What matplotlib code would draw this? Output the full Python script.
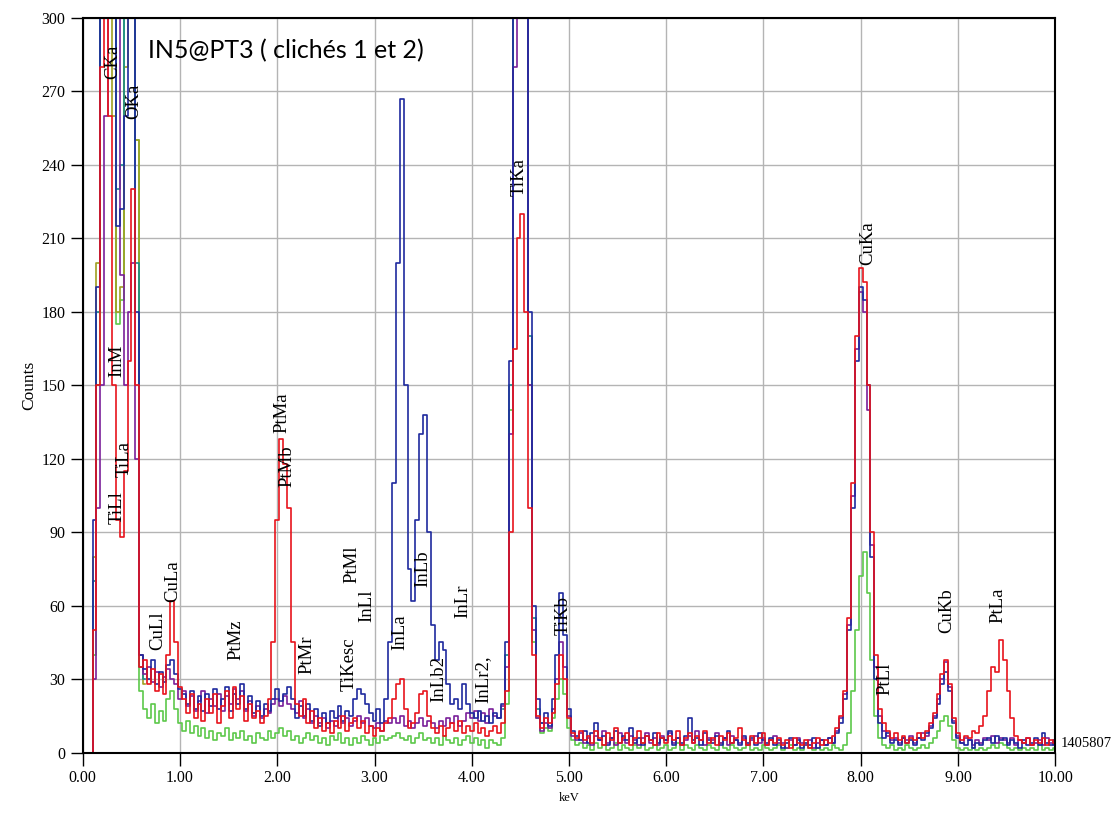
import numpy as np
import matplotlib
matplotlib.use("Agg")
import matplotlib.pyplot as plt

# spectre EDS, canaux de 0.04 keV de 0.00 a 10.00 keV (10 valeurs par ligne = 0.40 keV)
pas_kev = 0.04

bleu = [
    0, 0, 0, 95, 190, 330, 420, 400, 300, 215,        # 0.00
    222, 260, 380, 420, 180, 40, 34, 30, 38, 28,       # 0.40
    33, 29, 36, 38, 32, 26, 24, 20, 25, 18,            # 0.80
    23, 17, 24, 19, 26, 18, 22, 27, 17, 24,            # 1.20
    20, 28, 18, 23, 16, 21, 15, 20, 17, 22,            # 1.60
    26, 21, 24, 27, 22, 14, 19, 15, 20, 13,            # 2.00
    18, 11, 16, 12, 17, 14, 19, 13, 17, 15,            # 2.40
    22, 26, 24, 20, 16, 13, 18, 12, 22, 45,            # 2.80
    110, 200, 267, 150, 75, 62, 95, 130, 138, 90,      # 3.20
    52, 38, 45, 42, 28, 20, 22, 18, 28, 20,            # 3.60
    16, 14, 17, 13, 15, 12, 16, 14, 20, 45,            # 4.00
    160, 300, 420, 420, 340, 180, 60, 22, 12, 16,      # 4.40
    11, 22, 40, 65, 48, 18, 9, 7, 5, 9,                # 4.80
    4, 8, 12, 5, 7, 3, 6, 9, 4, 7,                     # 5.20
    5, 10, 4, 6, 3, 7, 5, 8, 4, 6,                     # 5.60
    5, 9, 3, 6, 4, 7, 14, 5, 6, 3,                     # 6.00
    8, 5, 4, 7, 3, 6, 9, 4, 5, 3,                      # 6.40
    7, 4, 6, 3, 8, 5, 4, 6, 3, 5,                      # 6.80
    2, 4, 6, 3, 5, 2, 4, 3, 6, 2,                      # 7.20
    5, 3, 6, 4, 8, 12, 22, 50, 100, 160,               # 7.60
    190, 185, 150, 80, 30, 12, 6, 8, 4, 5,             # 8.00
    3, 6, 4, 5, 3, 6, 5, 8, 10, 14,                    # 8.40
    20, 28, 33, 25, 12, 6, 4, 3, 5, 2,                 # 8.80
    4, 3, 5, 6, 4, 7, 5, 6, 3, 5,                      # 9.20
    4, 2, 5, 3, 4, 6, 3, 8, 4, 3,                      # 9.60
    5,                                                 # 10.00
]

rouge = [
    0, 0, 0, 50, 150, 280, 300, 260, 150, 95,
    88, 115, 160, 230, 150, 35, 38, 28, 34, 25,
    32, 24, 40, 62, 45, 27, 22, 16, 24, 14,
    20, 13, 22, 16, 24, 12, 19, 25, 14, 27,
    18, 23, 13, 20, 14, 17, 12, 15, 22, 45,
    95, 128, 118, 100, 45, 20, 15, 22, 12, 17,
    10, 14, 9, 12, 8, 13, 10, 15, 9, 12,
    14, 10, 13, 8, 11, 7, 10, 9, 12, 14,
    22, 28, 30, 18, 10, 12, 16, 24, 25, 15,
    10, 8, 11, 7, 10, 12, 9, 13, 8, 11,
    9, 12, 8, 10, 7, 9, 11, 8, 12, 25,
    90, 165, 210, 220, 180, 100, 40, 15, 10, 14,
    12, 16, 28, 40, 30, 14, 8, 6, 9, 5,
    7, 4, 9, 6, 3, 8, 5, 10, 4, 6,
    8, 3, 6, 9, 4, 7, 5, 3, 8, 6,
    4, 7, 5, 9, 3, 6, 8, 4, 7, 5,
    9, 4, 6, 3, 7, 5, 8, 4, 6, 10,
    5, 3, 7, 4, 6, 8, 3, 5, 4, 6,
    3, 5, 2, 6, 4, 3, 5, 2, 4, 6,
    3, 5, 4, 7, 10, 15, 25, 55, 110, 170,
    198, 192, 150, 90, 40, 18, 12, 9, 6, 8,
    5, 7, 4, 6, 5, 8, 6, 9, 12, 16,
    24, 32, 38, 28, 14, 8, 5, 7, 6, 9,
    8, 11, 15, 25, 35, 33, 46, 38, 25, 14,
    7, 5, 4, 6, 3, 5, 4, 6, 3, 5,
    4,
]

vert = [
    0, 0, 0, 40, 150, 320, 420, 420, 320, 175,
    185, 300, 420, 420, 250, 25, 18, 14, 20, 12,
    17, 13, 22, 25, 18, 12, 9, 13, 8, 11,
    7, 10, 6, 9, 5, 8, 7, 10, 5, 8,
    6, 9, 5, 7, 4, 8, 6, 5, 9, 6,
    8, 10, 7, 9, 5, 7, 4, 6, 8, 5,
    7, 4, 6, 3, 7, 5, 8, 4, 6, 3,
    6, 4, 7, 5, 3, 6, 4, 7, 5, 6,
    7, 8, 6, 5, 7, 4, 6, 8, 5, 6,
    4, 6, 3, 7, 5, 4, 6, 3, 5, 7,
    4, 6, 3, 5, 2, 5, 4, 3, 6, 20,
    140, 300, 420, 420, 320, 150, 45, 14, 8, 10,
    9, 14, 22, 30, 24, 10, 5, 3, 4, 2,
    3, 1, 4, 2, 3, 1, 2, 4, 1, 3,
    2, 1, 3, 2, 4, 1, 2, 3, 1, 2,
    3, 1, 2, 4, 1, 3, 2, 1, 3, 2,
    1, 3, 2, 1, 4, 2, 1, 3, 2, 1,
    2, 3, 1, 2, 1, 3, 2, 1, 2, 3,
    1, 2, 3, 1, 2, 1, 3, 2, 1, 2,
    1, 2, 1, 3, 2, 1, 3, 8, 25, 50,
    72, 82, 65, 38, 15, 6, 3, 2, 3, 1,
    2, 1, 3, 2, 1, 2, 3, 2, 4, 6,
    9, 13, 15, 11, 5, 2, 1, 2, 1, 2,
    1, 2, 1, 2, 3, 2, 4, 3, 2, 1,
    2, 1, 2, 1, 2, 1, 3, 1, 2, 1,
    2,
]

violet = [
    0, 0, 0, 30, 100, 150, 260, 380, 420, 330,
    195, 150, 180, 200, 120, 40, 32, 35, 29, 33,
    27, 31, 34, 30, 28, 22, 25, 19, 23, 17,
    21, 25, 16, 22, 19, 24, 17, 23, 20, 26,
    22, 25, 17, 21, 15, 19, 14, 18, 16, 20,
    22, 19, 23, 20, 18, 16, 21, 14, 18, 12,
    15, 12, 14, 10, 13, 11, 15, 12, 14, 11,
    13, 15, 12, 14, 11, 10, 12, 9, 13, 12,
    14, 12, 15, 11, 13, 10, 12, 14, 11, 13,
    12, 10, 13, 11, 14, 12, 15, 11, 13, 16,
    14, 17, 13, 16, 12, 18, 15, 14, 19, 35,
    130, 280, 420, 420, 300, 150, 50, 14, 9, 12,
    10, 18, 30, 45, 35, 15, 7, 5, 8, 4,
    6, 3, 7, 5, 9, 4, 6, 3, 8, 5,
    4, 7, 5, 3, 6, 8, 4, 6, 3, 7,
    5, 8, 4, 6, 3, 5, 7, 4, 9, 5,
    3, 6, 5, 8, 4, 6, 3, 7, 5, 4,
    6, 3, 5, 7, 4, 6, 3, 5, 7, 4,
    4, 2, 5, 3, 6, 4, 3, 5, 2, 4,
    5, 3, 6, 4, 9, 14, 24, 52, 105, 165,
    188, 180, 140, 85, 35, 15, 9, 7, 5, 6,
    4, 6, 5, 7, 4, 6, 8, 7, 11, 15,
    22, 30, 37, 27, 13, 7, 4, 6, 5, 3,
    5, 4, 6, 5, 7, 4, 6, 5, 4, 6,
    3, 5, 4, 6, 3, 4, 5, 3, 6, 4,
    3,
]

# traces partielles (bas de spectre et TiKa)
kev_bas = [0.00, 0.04, 0.08, 0.12, 0.16, 0.20, 0.24, 0.28, 0.32, 0.36,
           0.40, 0.44, 0.48, 0.52, 0.56, 0.60, 0.64]
cyan_bas = [0, 0, 0, 70, 180, 350, 420, 410, 320, 230, 240, 330, 420, 420, 200, 35, 30]
olive_bas = [0, 0, 0, 80, 200, 380, 420, 380, 260, 180, 190, 280, 400, 420, 250, 40, 28]
kev_ti = [4.32, 4.36, 4.40, 4.44, 4.48, 4.52, 4.56, 4.60, 4.64, 4.68, 4.72]
cyan_ti = [18, 40, 150, 300, 420, 420, 330, 170, 55, 18, 12]

# etiquettes des raies : (texte, keV, counts)
raies = [
    ("CKa", 0.31, 282), ("OKa", 0.52, 266), ("InM", 0.35, 160),
    ("TiLa", 0.42, 120), ("TiLl", 0.35, 100), ("CuLl", 0.77, 50),
    ("CuLa", 0.92, 70), ("PtMz", 1.58, 46), ("PtMa", 2.05, 139),
    ("PtMb", 2.10, 117), ("PtMr", 2.31, 40), ("TiKesc", 2.74, 36),
    ("PtMl", 2.77, 77), ("InLl", 2.92, 60), ("InLa", 3.26, 49),
    ("InLb", 3.50, 75), ("InLb2", 3.66, 30), ("InLr", 3.91, 62),
    ("InLr2,", 4.11, 30), ("TiKa", 4.49, 235), ("TiKb", 4.94, 56),
    ("CuKa", 8.07, 208), ("PtLl", 8.25, 30), ("CuKb", 8.88, 58),
    ("PtLa", 9.41, 60),
]

kev = np.round(np.arange(len(bleu)) * pas_kev, 2)

fig = plt.figure(figsize=(11.19, 8.19), dpi=100)
ax = fig.add_axes([0.074, 0.081, 0.869, 0.897])

serif = ["Liberation Serif", "DejaVu Serif"]

ax.plot(kev, vert, color="#5cc84a", lw=1.2, drawstyle="steps-mid")
ax.plot(kev_bas, olive_bas, color="#a0a020", lw=1.2, drawstyle="steps-mid")
ax.plot(kev_bas, cyan_bas, color="#1a8a8a", lw=1.2, drawstyle="steps-mid")
ax.plot(kev_ti, cyan_ti, color="#1a8a8a", lw=1.2, drawstyle="steps-mid")
ax.plot(kev, violet, color="#7a1f9a", lw=1.2, drawstyle="steps-mid")
ax.plot(kev, bleu, color="#1f2a9e", lw=1.2, drawstyle="steps-mid")
ax.plot(kev, rouge, color="#e8141c", lw=1.2, drawstyle="steps-mid")

for txt, x, y in raies:
    ax.text(x, y, txt, rotation=90, ha="center", va="center",
            fontsize=13.5, family=serif, color="black")

ax.text(0.067, 0.955, "IN5@PT3 ( clichés 1 et 2)", transform=ax.transAxes,
        fontsize=18, family=["Lato", "DejaVu Sans"], va="center", ha="left")
ax.text(1.006, 0.012, "1405807", transform=ax.transAxes, fontsize=10.5,
        family=serif, va="center", ha="left", clip_on=False)

ax.set_xlim(0, 10)
ax.set_ylim(0, 300)
ax.set_xticks(np.arange(0, 11, 1))
ax.set_xticklabels(["%.2f" % v for v in np.arange(0, 11, 1)])
ax.set_yticks(np.arange(0, 301, 30))
ax.grid(True, color="#b4b4b4", lw=1.0)
ax.set_axisbelow(True)
ax.tick_params(direction="out", length=9, labelsize=11.5, width=1)
for lab in ax.get_xticklabels() + ax.get_yticklabels():
    lab.set_family(serif)
for sp in ax.spines.values():
    sp.set_linewidth(1.5)

ax.set_xlabel("keV", fontsize=9, family=serif, labelpad=4)
ax.set_ylabel("Counts", fontsize=12.5, family=serif, labelpad=3)

fig.savefig("out.png", dpi=100)
